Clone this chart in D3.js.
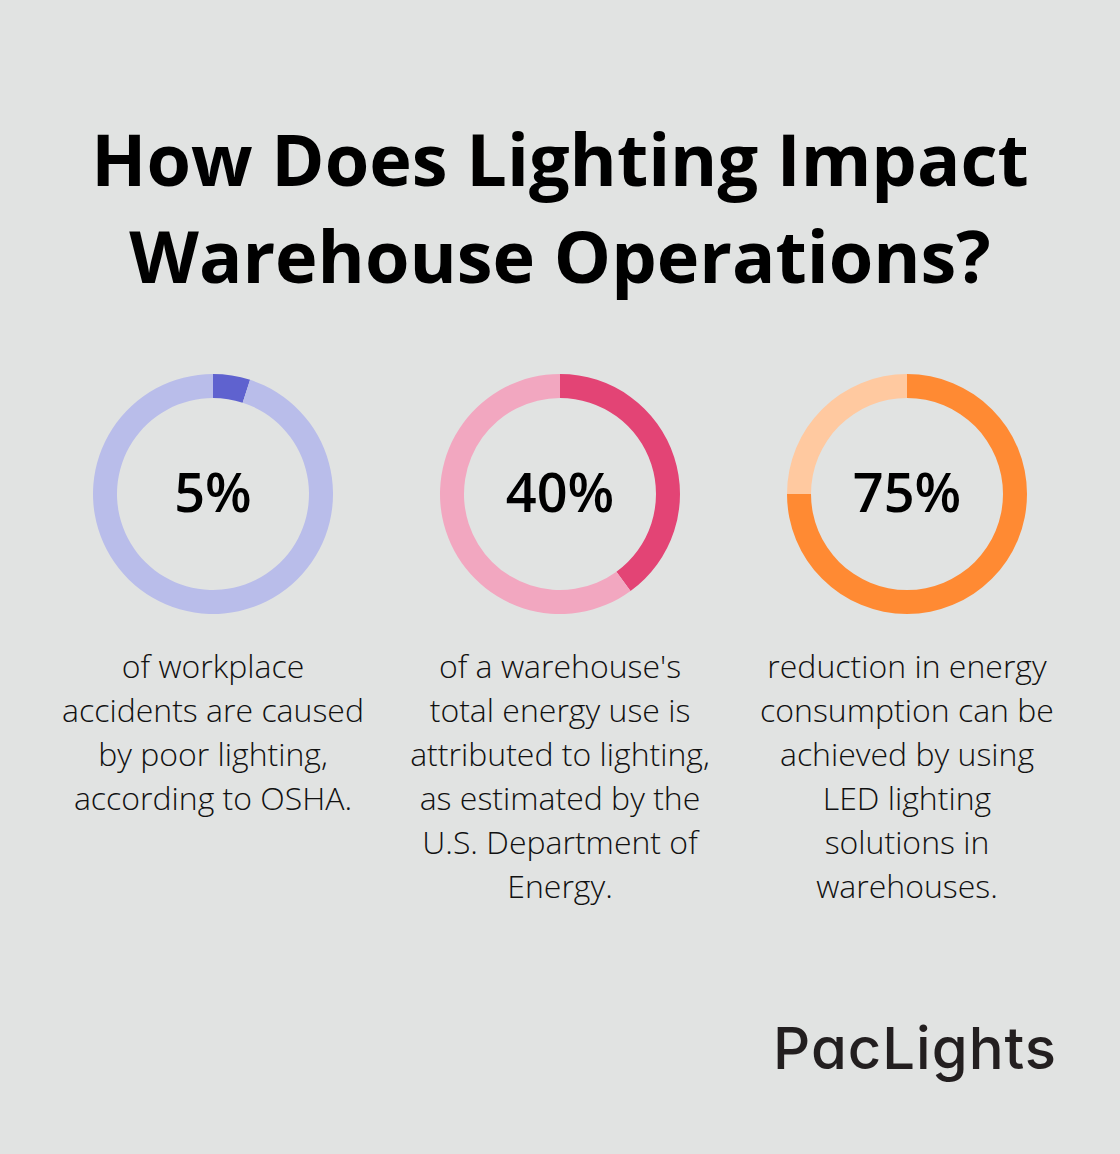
<!DOCTYPE html>
<html><head><meta charset="utf-8">
<script src="https://cdn.jsdelivr.net/npm/d3@7"></script>
<style>html,body{margin:0;padding:0;background:#E1E3E2;}svg{display:block;}</style>
</head><body>
<script>
const titleLines = ["How Does Lighting Impact", "Warehouse Operations?"];
const percents = [5, 40, 75];
const labels = ["5%", "40%", "75%"];
const captions = [
  ["of workplace", "accidents are caused", "by poor lighting,", "according to OSHA."],
  ["of a warehouse's", "total energy use is", "attributed to lighting,", "as estimated by the", "U.S. Department of", "Energy."],
  ["reduction in energy", "consumption can be", "achieved by using", "LED lighting", "solutions in", "warehouses."]
];
const darkColors = ["#5F62CF", "#E34475", "#FF8A33"];
const lightColors = ["#B9BDEA", "#F2A7C0", "#FFC9A0"];
const brand = "PacLights";

const W = 1120, H = 1154;
const svg = d3.select("body").append("svg").attr("width", W).attr("height", H);
svg.append("rect").attr("width", W).attr("height", H).attr("fill", "#E1E3E2");

svg.append("g").selectAll("text").data(titleLines).join("text")
  .attr("x", W/2).attr("y", (d,i) => 186 + i*97)
  .attr("text-anchor", "middle")
  .attr("font-family", "'Open Sans', sans-serif").attr("font-weight", 700)
  .attr("font-size", 72).attr("fill", "#000").text(d => d);

const x = d3.scalePoint().domain(d3.range(percents.length)).range([213, 907]);
const pie = d3.pie().sort(null).value(d => d);
const arc = d3.arc().innerRadius(96).outerRadius(120);

percents.forEach((p, i) => {
  const g = svg.append("g").attr("transform", `translate(${x(i)},494)`);
  g.selectAll("path").data(pie([p, 100 - p])).join("path")
    .attr("d", arc).attr("fill", (d, j) => j === 0 ? darkColors[i] : lightColors[i]);
  g.append("text").attr("y", 18).attr("text-anchor", "middle")
    .attr("font-family", "'Open Sans', sans-serif").attr("font-weight", 600)
    .attr("font-size", 54).attr("fill", "#000").text(labels[i]);
  svg.append("g").selectAll("text").data(captions[i]).join("text")
    .attr("x", x(i)).attr("y", (d, k) => 678 + k*44)
    .attr("text-anchor", "middle")
    .attr("font-family", "'Open Sans', sans-serif").attr("font-weight", 300)
    .attr("font-size", 32).attr("fill", "#111").text(d => d);
});

svg.append("text").attr("x", 1057).attr("y", 1069).attr("text-anchor", "end")
  .attr("font-family", "Inter, sans-serif").attr("font-weight", 500)
  .style("font-feature-settings", "'cv11' 1")
  .attr("font-size", 58).attr("letter-spacing", 1).attr("fill", "#231F20").text(brand);
</script>
</body></html>
